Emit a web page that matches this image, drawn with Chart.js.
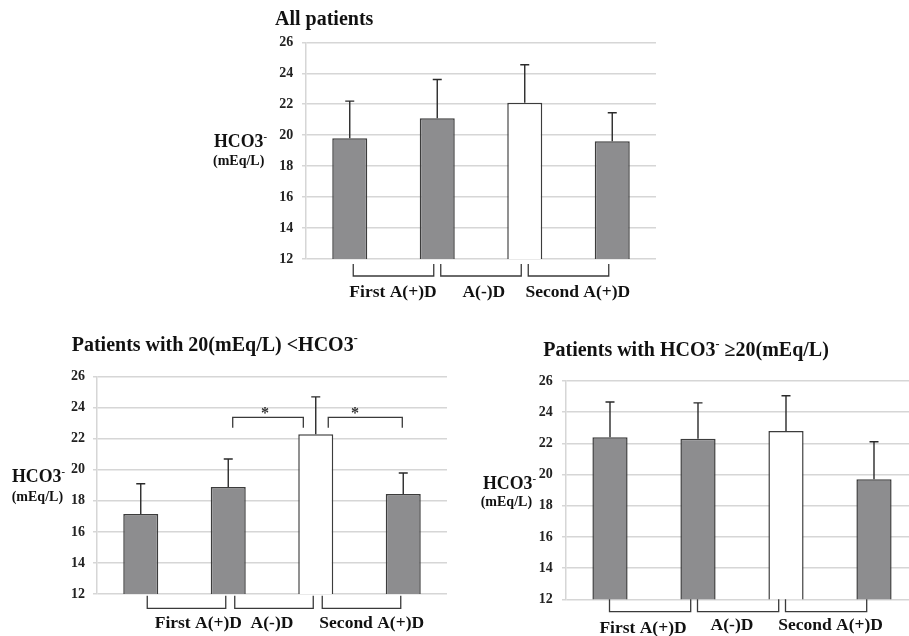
<!DOCTYPE html>
<html><head><meta charset="utf-8">
<script src="https://cdn.jsdelivr.net/npm/chart.js@4"></script>
<style>
html,body{margin:0;padding:0;background:#fff;overflow:hidden;width:909px;height:636px;position:relative;}
canvas{position:absolute;}
</style></head><body>
<canvas id="c1" width="490" height="310" style="left:180px;top:0px"></canvas>
<canvas id="c2" width="460" height="306" style="left:0px;top:330px"></canvas>
<canvas id="c3" width="470" height="306" style="left:460px;top:330px"></canvas>
<script>
// ---- data ----
const timePoints = ['T1', 'T2', 'T3', 'T4'];
const periods = ['First A(+)D', 'A(-)D', 'Second A(+)D'];
const yTicks = {min: 12, max: 26, step: 2};

const allMeans = [19.8, 21.1, 22.1, 19.6];
const allSD    = [2.4, 2.5, 2.45, 1.85];

const lowMeans = [17.15, 18.9, 22.3, 18.45];
const lowSD    = [1.95, 1.8, 2.4, 1.35];

const highMeans = [22.4, 22.3, 22.8, 19.7];
const highSD    = [2.25, 2.3, 2.25, 2.4];

const lowSig = [{from: 1, to: 2, label: '*'}, {from: 2, to: 3, label: '*'}];

const titleAll  = [['All patients', 0]];
const titleLow  = [['Patients with 20(mEq/L) <HCO3', 0], ['-', 1]];
const titleHigh = [['Patients with HCO3', 0], ['-', 1], [' \u226520(mEq/L)', 0]];
const yTitle = [['HCO3', 0], ['-', 1]];
const yUnit = '(mEq/L)';

// ---- styling ----
const FONT = '"Liberation Serif", "Times New Roman", serif';
const GRAY = '#8d8d8f';
const INK = '#2a2a2a';
const GRID = '#d6d6d6';

function drawRich(ctx, segs, x, y, size) {
  let cx = x;
  ctx.textAlign = 'left';
  ctx.textBaseline = 'alphabetic';
  segs.forEach(([t, sup]) => {
    const s = sup ? size * 0.6 : size;
    ctx.font = 'bold ' + s + 'px ' + FONT;
    ctx.fillText(t, cx, sup ? y - size * 0.42 : y);
    cx += ctx.measureText(t).width;
  });
}

const deco = {
  id: 'deco',
  afterDatasetsDraw(chart, args, o) {
    const ctx = chart.ctx, xs = chart.scales.x, ys = chart.scales.y;
    const data = chart.data.datasets[0].data;
    const c = i => xs.getPixelForValue(i);
    const step = c(1) - c(0);
    ctx.save();
    // error bars
    ctx.strokeStyle = INK; ctx.lineWidth = 1.4;
    data.forEach((v, i) => {
      const x = c(i), y0 = ys.getPixelForValue(v), y1 = ys.getPixelForValue(v + o.sd[i]);
      ctx.beginPath();
      ctx.moveTo(x, y0); ctx.lineTo(x, y1);
      ctx.moveTo(x - 4.5, y1); ctx.lineTo(x + 4.5, y1);
      ctx.stroke();
    });
    // period brackets
    ctx.strokeStyle = '#3a3a3a'; ctx.lineWidth = 1.3;
    const yt = ys.bottom + o.L.bt, yb = ys.bottom + o.L.bb;
    for (let i = 0; i < periods.length; i++) {
      const xa = c(i) + o.L.bl, xb = c(i + 1) + o.L.br;
      ctx.beginPath();
      ctx.moveTo(xa, yt); ctx.lineTo(xa, yb); ctx.lineTo(xb, yb); ctx.lineTo(xb, yt);
      ctx.stroke();
    }
    ctx.fillStyle = '#111';
    ctx.font = 'bold 17.5px ' + FONT;
    ctx.textAlign = 'center'; ctx.textBaseline = 'alphabetic';
    periods.forEach((p, i) => {
      ctx.fillText(p, c(0) + o.L.labelPos[i] * step, o.L.labelY[i]);
    });
    // significance
    (o.sig || []).forEach((s, k) => {
      const g = o.L.sig[k];
      const xa = c(s.from) + g.a * step, xb = c(s.to) + g.b * step;
      const yT = ys.getPixelForValue(g.top), yB = ys.getPixelForValue(g.bot);
      ctx.strokeStyle = '#3a3a3a'; ctx.lineWidth = 1.3;
      ctx.beginPath();
      ctx.moveTo(xa, yB); ctx.lineTo(xa, yT); ctx.lineTo(xb, yT); ctx.lineTo(xb, yB);
      ctx.stroke();
      ctx.font = 'bold 16px ' + FONT;
      ctx.textAlign = 'center'; ctx.textBaseline = 'middle';
      ctx.fillStyle = '#333';
      ctx.fillText(s.label, c(s.from) + g.star * step, ys.getPixelForValue(g.starV) + 3);
    });
    // titles
    ctx.fillStyle = '#111';
    drawRich(ctx, o.title, o.L.titleX, o.L.titleY, 20);
    drawRich(ctx, yTitle, o.L.yx, o.L.yy, 17.8);
    ctx.font = 'bold 14px ' + FONT;
    ctx.textAlign = 'left'; ctx.textBaseline = 'alphabetic';
    ctx.fillText(yUnit, o.L.ux, o.L.uy);
    ctx.restore();
  }
};

function makePanel(id, means, sd, title, L, sig) {
  new Chart(document.getElementById(id), {
    type: 'bar',
    data: {
      labels: timePoints,
      datasets: [{
        data: means,
        backgroundColor: [GRAY, GRAY, '#ffffff', GRAY],
        borderColor: '#3c3c3c',
        borderWidth: 1.5,
        barPercentage: 0.4,
        categoryPercentage: 1.0
      }]
    },
    options: {
      responsive: false,
      animation: false,
      layout: {padding: {top: L.pt, right: L.pr, bottom: L.pb, left: 0}},
      plugins: {
        legend: {display: false},
        tooltip: {enabled: false},
        deco: {sd: sd, title: title, L: L, sig: sig}
      },
      scales: {
        x: {display: false},
        y: {
          min: yTicks.min, max: yTicks.max,
          ticks: {stepSize: yTicks.step, color: '#222', padding: L.tp,
                  font: {family: FONT, size: 14, weight: 'bold'}},
          grid: {color: GRID, lineWidth: 1.5, tickLength: 4},
          border: {color: GRID, width: 1.5},
          afterFit(s) { s.width = L.aw; }
        }
      }
    },
    plugins: [deco]
  });
}

makePanel('c1', allMeans, allSD, titleAll, {
  pt: 42.3, pr: 14, pb: 51, aw: 126, tp: 8.7,
  bl: 3.5, br: -3.5, bt: 5, bb: 17,
  labelPos: [0.494, 1.532, 2.606], labelY: [296.7, 296.7, 296.7],
  titleX: 95, titleY: 25, yx: 34, yy: 147.3, ux: 33, uy: 165
});
makePanel('c2', lowMeans, lowSD, titleLow, {
  pt: 46.7, pr: 13, pb: 42, aw: 97, tp: 8,
  bl: 6.5, br: -2.5, bt: 1.7, bb: 14.3,
  labelPos: [0.658, 1.5, 2.64], labelY: [297.7, 297.7, 297.7],
  titleX: 71.7, titleY: 20.7, yx: 12, yy: 152.3, ux: 11.7, uy: 170.7,
  sig: [{a: 0.051, b: -0.142, top: 23.38, bot: 22.71, star: 0.42, starV: 23.79},
        {a: 0.143, b: -0.011, top: 23.38, bot: 22.71, star: 0.448, starV: 23.79}]
}, lowSig);
makePanel('c3', highMeans, highSD, titleHigh, {
  pt: 51, pr: 12, pb: 36.7, aw: 106, tp: 9.3,
  bl: -0.5, br: -7.3, bt: 0, bb: 12.4,
  labelPos: [0.375, 1.386, 2.506], labelY: [303, 300, 300],
  titleX: 83.3, titleY: 26, yx: 23, yy: 159.3, ux: 20.7, uy: 176
});
</script>
</body></html>
